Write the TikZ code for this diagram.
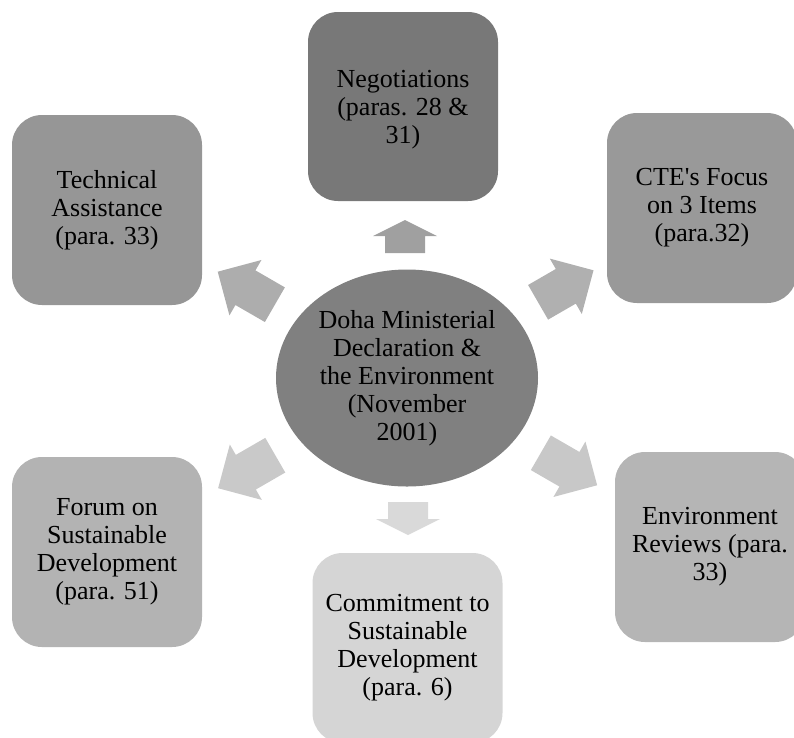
\documentclass[tikz,border=0pt]{standalone}
\usepackage{fontspec}
\setmainfont{Liberation Serif}
\usetikzlibrary{shapes.geometric}
\begin{document}
% block arrow: #1 centre, #2 direction (deg), #3 length, #4 head length, #5 fill
\newcommand\radialarrow[5]{%
  \begin{scope}[shift={#1}, rotate=#2]
    \fill[#5] (-#3/2,-20) -- (#3/2-#4,-20) -- (#3/2-#4,-32) -- (#3/2,0)
      -- (#3/2-#4,32) -- (#3/2-#4,20) -- (-#3/2,20) -- cycle;
  \end{scope}}
\begin{tikzpicture}[x=1pt, y=-1pt,
  label text/.style={font=\fontsize{26}{28}\selectfont, text=black, align=center},
  topic/.style={label text, rounded corners=30pt, minimum width=190pt,
    minimum height=190pt, inner sep=0pt},
  hub/.style={label text, ellipse, minimum width=262pt, minimum height=217pt,
    inner sep=0pt}]
  \useasboundingbox (0,0) rectangle (794,737);
  \definecolor{cHub}{HTML}{808080}
  \definecolor{cNeg}{HTML}{787878}
  \definecolor{cTech}{HTML}{969696}
  \definecolor{cCte}{HTML}{999999}
  \definecolor{cForum}{HTML}{B3B3B3}
  \definecolor{cEnv}{HTML}{B5B5B5}
  \definecolor{cCommit}{HTML}{D5D5D5}
  \definecolor{aUp}{HTML}{A0A0A0}
  \definecolor{aUR}{HTML}{B0B0B0}
  \definecolor{aLR}{HTML}{C8C8C8}
  \definecolor{aDown}{HTML}{D9D9D9}
  \definecolor{aLL}{HTML}{C9C9C9}
  \definecolor{aUL}{HTML}{ADADAD}

  % central topic
  \node[hub, fill=cHub] (hub) at (407,378)
    {Doha Ministerial\\Declaration \&\\the Environment\\(November\\2001)};

  % surrounding topics
  \fill[cNeg, rounded corners=30pt] (308,12) rectangle (498,201);
  \node[label text] (neg) at (403,109.5) {Negotiations\\(paras. 28 \&\\31)};
  \node[topic, fill=cTech] (tech) at (107,210) {Technical\\Assistance\\(para. 33)};
  \node[topic, fill=cCte] (cte) at (702,208) {CTE\textquotesingle s Focus\\on 3 Items\\(para.32)};
  \node[topic, fill=cForum] (forum) at (107,552) {Forum on\\Sustainable\\Development\\(para. 51)};
  \node[topic, fill=cEnv] (env) at (710,547) {Environment\\Reviews (para.\\33)};
  \node[topic, fill=cCommit] (commit) at (407.5,648) {Commitment to\\Sustainable\\Development\\(para. 6)};

  % diverging arrows from the hub
  \radialarrow{(405,236.5)}{90}{33}{16}{aUp}
  \radialarrow{(408,518.5)}{-90}{33}{16}{aDown}
  \radialarrow{(246.3,288.2)}{150}{66}{32}{aUL}
  \radialarrow{(565.8,286.3)}{30}{64}{32}{aUR}
  \radialarrow{(246.7,471.7)}{210}{66}{32}{aLL}
  \radialarrow{(569,469)}{-30}{65}{32}{aLR}
\end{tikzpicture}
\end{document}
